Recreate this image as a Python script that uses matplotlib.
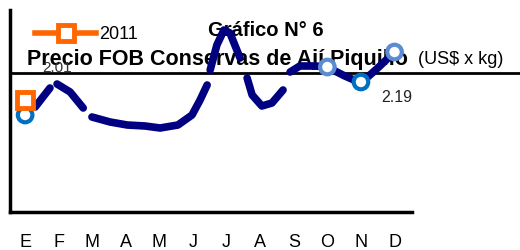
import matplotlib.pyplot as plt
from matplotlib.lines import Line2D

plt.rcParams['font.family'] = ['Liberation Sans', 'DejaVu Sans']

months = ['E', 'F', 'M', 'A', 'M', 'J', 'J', 'A', 'S', 'O', 'N', 'D']

# serie 2011 (solo enero visible)
x_2011 = [0]
y_2011 = [2.01]

# serie 2012 (marcadores azules)
x_2012 = [0, 9, 10, 11]
y_2012 = [1.86, 2.34, 2.19, 2.49]
c_2012 = ['#0070c0', '#5b8bd3', '#0070c0', '#5b8bd3']

# trazo a mano (azul marino), por tramos
trazo_x = [
    [0.3, 0.74],
    [0.95, 1.34, 1.73],
    [1.99, 2.53, 3.04, 3.57, 4.02, 4.55, 4.97, 5.21, 5.42],
    [5.51, 5.71, 5.92, 6.1, 6.4],
    [6.61, 6.76, 7.05, 7.35, 7.68],
    [7.89, 8.18, 8.63, 8.99, 9.52, 10.0, 10.5, 11.0],
]
trazo_y = [
    [1.94, 2.13],
    [2.17, 2.09, 1.93],
    [1.84, 1.79, 1.76, 1.75, 1.73, 1.76, 1.86, 2.01, 2.16],
    [2.31, 2.56, 2.71, 2.68, 2.43],
    [2.23, 2.06, 1.95, 1.98, 2.11],
    [2.29, 2.35, 2.35, 2.34, 2.25, 2.18, 2.33, 2.49],
]

fig = plt.figure(figsize=(5.2, 2.5), dpi=100)
ax = fig.add_axes([10/520, 38/250, 402/520, 202/250])
ax.patch.set_alpha(0)

for xs, ys in zip(trazo_x, trazo_y):
    ax.plot(xs, ys, color='#000080', linewidth=5.5, solid_capstyle='round',
            solid_joinstyle='round', zorder=2)

ax.scatter(x_2012, y_2012, s=110, facecolors='white', edgecolors=c_2012, linewidths=3, zorder=3)
l2011, = ax.plot(x_2011, y_2011, color='#ff6600', linewidth=4, marker='s', markersize=12,
                 markerfacecolor='white', markeredgewidth=3.5, zorder=4, label='2011')

ax.text(0.95, 2.33, '2.01', fontsize=11, color='#333333', ha='center', va='center', zorder=0)
ax.text(10.6, 2.04, '2.19', fontsize=11.5, color='#222222', ha='left', va='center')

ax.set_xlim(-0.45, 11.52)
ax.set_ylim(0.89, 2.91)
ax.set_xticks(range(12))
ax.set_xticklabels(months, fontsize=13)
ax.tick_params(axis='x', length=0, pad=16)
ax.set_yticks([])
for s in ['top', 'right']:
    ax.spines[s].set_visible(False)
for s in ['left', 'bottom']:
    ax.spines[s].set_linewidth(2.5)

ax.legend(handles=[l2011], loc='upper left', bbox_to_anchor=(25/402, 0.92), frameon=False,
          handlelength=3.4, fontsize=13, numpoints=1, borderaxespad=0, borderpad=0,
          handletextpad=0.15)

fig.text(266/520, 1 - 30/250, 'Gráfico N° 6', fontsize=14.5, fontweight='bold',
         ha='center', va='center', zorder=-1)
fig.text(27/520, 1 - 60/250, 'Precio FOB Conservas de Ají Piquillo', fontsize=15.5,
         fontweight='bold', ha='left', va='center', zorder=-1)
fig.text(418/520, 1 - 60/250, '(US$ x kg)', fontsize=13, ha='left', va='center', zorder=-1)
fig.add_artist(Line2D([10/520, 1.0], [1 - 73/250, 1 - 73/250], color='black', linewidth=2, zorder=-1))

fig.savefig('out.png', dpi=100)
